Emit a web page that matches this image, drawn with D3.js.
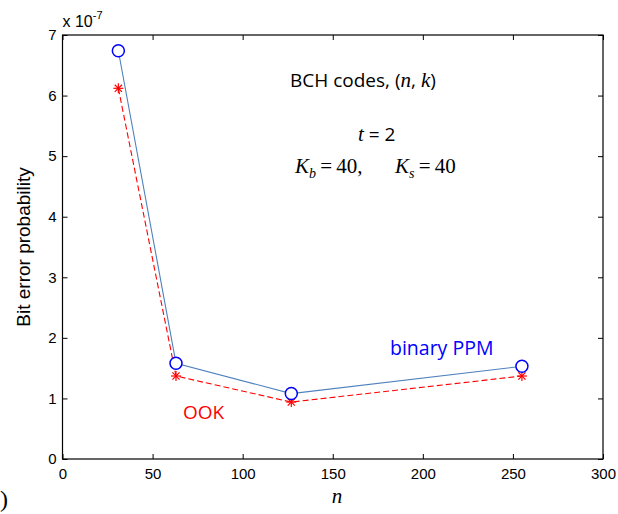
<!DOCTYPE html>
<html>
<head>
<meta charset="utf-8">
<script src="https://cdn.jsdelivr.net/npm/d3@7"></script>
<style>
  html, body { margin: 0; padding: 0; background: #fff; }
  svg { display: block; }
</style>
</head>
<body>
<svg id="chart" width="618" height="514"></svg>
<script>
// Code length n for the BCH codes (t = 2)
const codeLengths = [31, 63, 127, 255];
// Bit error probability, in units of 1e-7
const ppmBer = [6.74, 1.58, 1.08, 1.53];
const ookBer = [6.12, 1.37, 0.94, 1.37];
const xTicks = [0, 50, 100, 150, 200, 250, 300];
const yTicks = [0, 1, 2, 3, 4, 5, 6, 7];

const svg = d3.select("#chart");
const margin = { left: 62.5, right: 15, top: 35, bottom: 55 };
const W = 618, H = 514;

const x = d3.scaleLinear().domain([0, 300]).range([margin.left, W - margin.right]);
const y = d3.scaleLinear().domain([0, 7]).range([H - margin.bottom, margin.top]);

const tickFont = "'Liberation Sans', Arial, sans-serif";

// Plot frame
svg.append("rect")
  .attr("x", x(0)).attr("y", y(7))
  .attr("width", x(300) - x(0)).attr("height", y(0) - y(7))
  .attr("fill", "none").attr("stroke", "#000").attr("stroke-width", 1.2);

// Bottom and left axes with inward ticks
const xAxis = svg.append("g").attr("transform", `translate(0,${y(0)})`)
  .call(d3.axisBottom(x).tickValues(xTicks).tickFormat(d3.format("d"))
    .tickSizeInner(-5).tickSizeOuter(0).tickPadding(9));
const yAxis = svg.append("g").attr("transform", `translate(${x(0)},0)`)
  .call(d3.axisLeft(y).tickValues(yTicks).tickFormat(d3.format("d"))
    .tickSizeInner(-5).tickSizeOuter(0).tickPadding(6));
// Mirrored ticks on top and right
const xAxisTop = svg.append("g").attr("transform", `translate(0,${y(7)})`)
  .call(d3.axisTop(x).tickValues(xTicks).tickSizeInner(-5).tickSizeOuter(0).tickFormat(""));
const yAxisRight = svg.append("g").attr("transform", `translate(${x(300)},0)`)
  .call(d3.axisRight(y).tickValues(yTicks).tickSizeInner(-5).tickSizeOuter(0).tickFormat(""));

[xAxis, yAxis, xAxisTop, yAxisRight].forEach(g => {
  g.select(".domain").remove();
  g.selectAll("line").attr("stroke", "#000");
  g.selectAll("text").attr("font-family", tickFont).attr("font-size", 15).attr("fill", "#000");
});
yAxis.selectAll("text").attr("dy", "0.32em");

// Exponent label
const expo = svg.append("text")
  .attr("x", x(0)).attr("y", 26.5)
  .attr("font-family", tickFont).attr("font-size", 16).attr("fill", "#000");
expo.append("tspan").text("x 10");
expo.append("tspan").attr("dy", -8).attr("font-size", 11).text("-7");

// Series lines
const line = d3.line().x((d, i) => x(codeLengths[i])).y(d => y(d));
svg.append("path").datum(ppmBer)
  .attr("d", line).attr("fill", "none")
  .attr("stroke", "#4f81bd").attr("stroke-width", 1.1);
svg.append("path").datum(ookBer)
  .attr("d", line).attr("fill", "none")
  .attr("stroke", "#ff0000").attr("stroke-width", 1.1)
  .attr("stroke-dasharray", "6,3");

// OOK markers: asterisks
const star = svg.append("g").selectAll("g").data(ookBer).join("g")
  .attr("transform", (d, i) => `translate(${x(codeLengths[i])},${y(d)})`)
  .attr("stroke", "#ff0000").attr("stroke-width", 1.2);
star.append("line").attr("x1", -5).attr("x2", 5).attr("y1", 0).attr("y2", 0);
star.append("line").attr("x1", 0).attr("x2", 0).attr("y1", -5).attr("y2", 5);
star.append("line").attr("x1", -3.6).attr("x2", 3.6).attr("y1", -3.6).attr("y2", 3.6);
star.append("line").attr("x1", -3.6).attr("x2", 3.6).attr("y1", 3.6).attr("y2", -3.6);

// Binary PPM markers: open circles
svg.append("g").selectAll("circle").data(ppmBer).join("circle")
  .attr("cx", (d, i) => x(codeLengths[i])).attr("cy", d => y(d))
  .attr("r", 6).attr("fill", "#fff")
  .attr("stroke", "#0000ff").attr("stroke-width", 1.5);

// Annotations
const sans = "'Open Sans', 'Noto Sans', sans-serif";
const serif = "'Liberation Serif', 'Times New Roman', serif";

const title = svg.append("text").attr("x", 290).attr("y", 87)
  .attr("font-family", sans).attr("font-size", 19).attr("fill", "#000");
title.append("tspan").text("BCH codes, (");
title.append("tspan").attr("font-family", serif).attr("font-style", "italic").attr("font-size", 21).text("n");
title.append("tspan").text(", ");
title.append("tspan").attr("font-family", serif).attr("font-style", "italic").attr("font-size", 21).text("k");
title.append("tspan").text(")");

const tLine = svg.append("text").attr("x", 358).attr("y", 141)
  .attr("font-size", 19).attr("fill", "#000");
tLine.append("tspan").attr("font-family", serif).attr("font-style", "italic").attr("font-size", 21).text("t");
tLine.append("tspan").attr("font-family", sans).text(" = 2");

// K_b and K_s parameters, typeset as math
function kParam(x0, sub, value) {
  const t = svg.append("text").attr("x", x0).attr("y", 173)
    .attr("font-family", serif).attr("font-size", 21).attr("fill", "#000");
  t.append("tspan").attr("font-style", "italic").text("K");
  t.append("tspan").attr("font-style", "italic").attr("font-size", 14).attr("dy", 5).text(sub);
  t.append("tspan").attr("dy", -5).text("\u2009=\u2009" + value);
  return t;
}
kParam(295, "b", "40,");
kParam(395, "s", "40");

svg.append("text").attr("x", 390).attr("y", 355)
  .attr("font-family", sans).attr("font-size", 19.5).attr("fill", "#0000ff")
  .text("binary PPM");
svg.append("text").attr("x", 183).attr("y", 419)
  .attr("font-family", sans).attr("font-size", 19).attr("fill", "#ff0000")
  .text("OOK");

// Axis titles
svg.append("text")
  .attr("transform", `translate(30,${(y(0) + y(7)) / 2}) rotate(-90)`)
  .attr("text-anchor", "middle")
  .attr("font-family", tickFont).attr("font-size", 19).attr("fill", "#000")
  .text("Bit error probability");
svg.append("text").attr("x", 337).attr("y", 503)
  .attr("text-anchor", "middle")
  .attr("font-family", serif).attr("font-style", "italic").attr("font-size", 21).attr("fill", "#000")
  .text("n");
svg.append("text").attr("x", 0).attr("y", 507)
  .attr("font-family", serif).attr("font-size", 24).attr("fill", "#000")
  .text(")");
</script>
</body>
</html>
